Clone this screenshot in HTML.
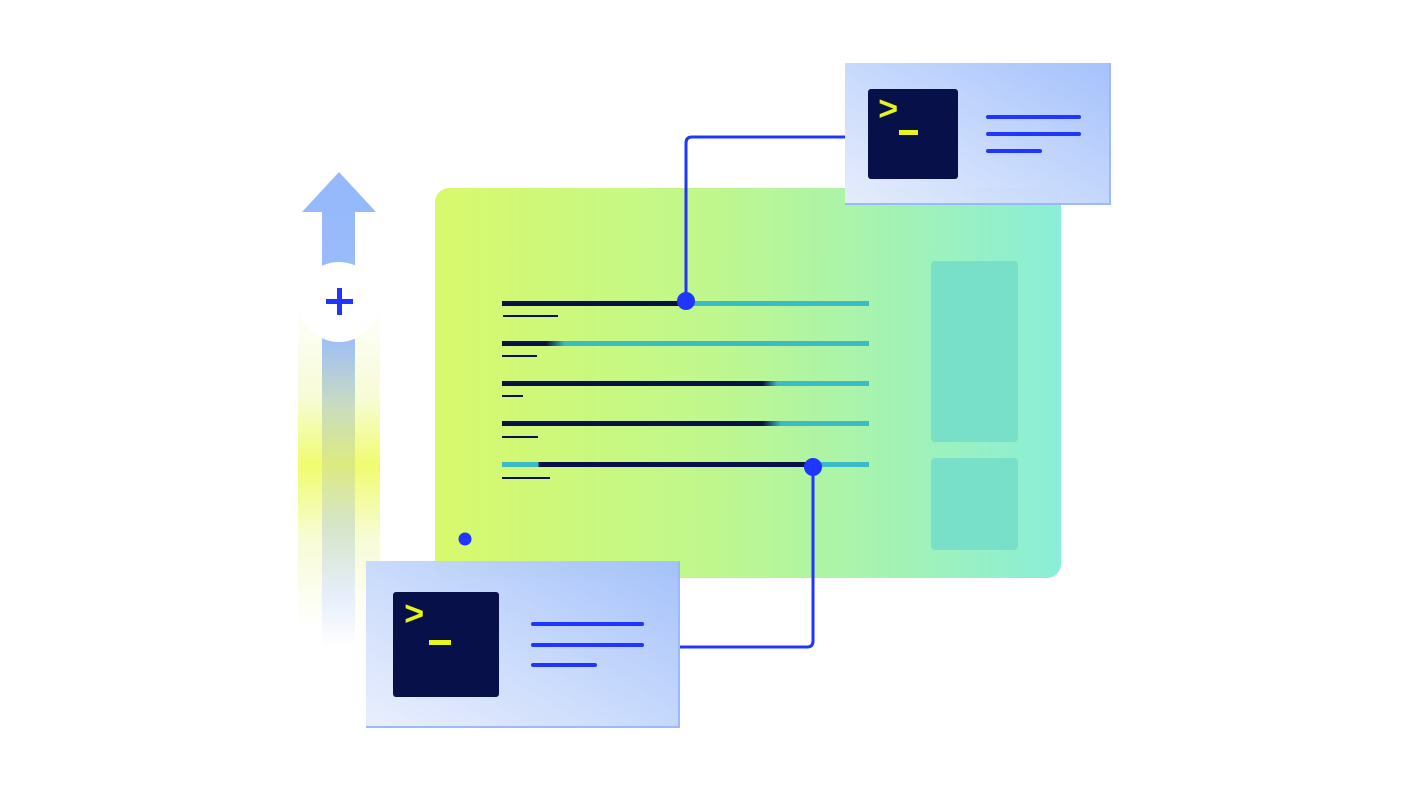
<!DOCTYPE html>
<html><head><style>
body{margin:0;width:1410px;height:792px;background:#fff;position:relative;overflow:hidden;font-family:"Liberation Sans",sans-serif}
div{position:absolute}
.ln{height:5px}
.sub{height:2px;background:#0a1148}
.bl{height:4px;background:#2036ff;border-radius:2px}
.term{background:#08104a;border-radius:3px}
.gt{color:#e6f51a;font:bold 34px "Liberation Mono",monospace;line-height:34px}
</style></head><body>
<!-- arrow glow -->
<div style="left:298px;top:300px;width:82px;height:330px;background:linear-gradient(#fff 0%,#f6fbd0 30%,#eefc60 50%,#f6fbd0 72%,#fff 100%);opacity:.9"></div>
<div style="left:322px;top:208px;width:33px;height:440px;background:linear-gradient(#96b9fc 0%,#9fbff5 30%,#c9dcc0 45%,#dcea80 58%,#d6e5c8 72%,#e6eefa 88%,#fff 100%)"></div>
<svg style="position:absolute;left:0;top:0" width="1410" height="792">
<polygon points="339,172 376,212 302,212" fill="#96b9fc"/>
</svg>
<div style="left:299px;top:262px;width:80px;height:80px;border-radius:50%;background:#fff"></div>
<div style="left:326px;top:299px;width:27px;height:5px;background:#2036ff"></div>
<div style="left:337px;top:288px;width:5px;height:27px;background:#2036ff"></div>
<!-- green card -->
<div style="left:435px;top:188px;width:626px;height:390px;border-radius:14px;background:linear-gradient(90deg,#d8f96c,#bff78e 45%,#8aeed8)"></div>
<div style="left:931px;top:261px;width:87px;height:181px;border-radius:4px;background:#78e0c8"></div>
<div style="left:931px;top:458px;width:87px;height:92px;border-radius:4px;background:#78e0c8"></div>
<!-- lines -->
<div class="ln" style="left:502px;top:301px;width:367px;background:linear-gradient(90deg,#0a1148 50%,#3dbbc4 50%)"></div>
<div class="sub" style="left:503px;top:315px;width:55px"></div>
<div class="ln" style="left:502px;top:341px;width:367px;background:linear-gradient(90deg,#0a1148 12%,#3dbbc4 17%)"></div>
<div class="sub" style="left:502px;top:355px;width:35px"></div>
<div class="ln" style="left:502px;top:381px;width:367px;background:linear-gradient(90deg,#0a1148 71%,#3dbbc4 75%)"></div>
<div class="sub" style="left:502px;top:395px;width:21px"></div>
<div class="ln" style="left:502px;top:421px;width:367px;background:linear-gradient(90deg,#0a1148 71%,#3dbbc4 76%)"></div>
<div class="sub" style="left:502px;top:436px;width:36px"></div>
<div class="ln" style="left:502px;top:462px;width:367px;background:linear-gradient(90deg,#3dbbc4 10%,#0a1148 10%,#0a1148 85%,#3dbbc4 85%)"></div>
<div class="sub" style="left:502px;top:477px;width:48px"></div>
<!-- connectors -->
<svg style="position:absolute;left:0;top:0" width="1410" height="792">
<path d="M686,301 V143 Q686,137 692,137 H846" stroke="#2036ff" stroke-width="3" fill="none"/>
<path d="M813,467 V641 Q813,647 807,647 H680" stroke="#2036ff" stroke-width="3" fill="none"/>
<circle cx="686" cy="301" r="9" fill="#2036ff"/>
<circle cx="813" cy="467" r="9" fill="#2036ff"/>
<circle cx="465" cy="539" r="6.5" fill="#2036ff"/>
</svg>
<!-- top card -->
<div style="left:845px;top:63px;width:264px;height:140px;background:linear-gradient(210deg,#a3c1fb,#e6edfd);border-right:2px solid #9ab8f8;border-bottom:2px solid #9ab8f8;opacity:.97"></div>
<div class="term" style="left:868px;top:89px;width:90px;height:90px"></div>
<div class="gt" style="left:878px;top:95px">&gt;</div>
<div style="left:899px;top:130px;width:19px;height:5px;background:#e6f51a"></div>
<div class="bl" style="left:986px;top:115px;width:95px"></div>
<div class="bl" style="left:986px;top:132px;width:95px"></div>
<div class="bl" style="left:986px;top:149px;width:56px"></div>
<!-- bottom card -->
<div style="left:366px;top:561px;width:312px;height:165px;background:linear-gradient(210deg,#a3c1fb,#e6edfd 95%);border-right:2px solid #9ab8f8;border-bottom:2px solid #9ab8f8;opacity:.97"></div>
<div class="term" style="left:393px;top:592px;width:106px;height:105px"></div>
<div class="gt" style="left:404px;top:600px">&gt;</div>
<div style="left:429px;top:640px;width:22px;height:5px;background:#e6f51a"></div>
<div class="bl" style="left:531px;top:622px;width:113px"></div>
<div class="bl" style="left:531px;top:643px;width:113px"></div>
<div class="bl" style="left:531px;top:663px;width:66px"></div>
</body></html>
